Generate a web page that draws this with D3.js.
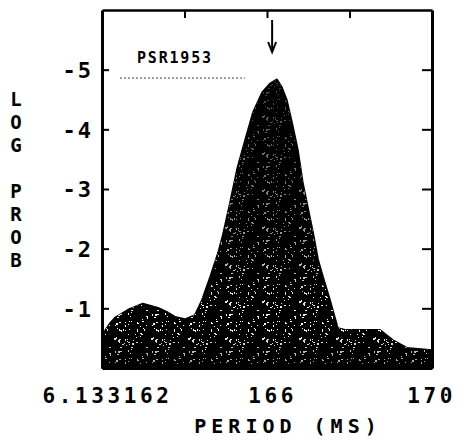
<!DOCTYPE html>
<html>
<head>
<meta charset="utf-8">
<script src="https://cdn.jsdelivr.net/npm/d3@7/dist/d3.min.js"></script>
<style>
  html, body { margin: 0; padding: 0; background: #fff; }
  svg { display: block; }
  text { font-family: "DejaVu Sans Mono", monospace; font-weight: bold; fill: #000; }
</style>
</head>
<body>
<script>
// ---- data ----
const periods = [162.00, 162.08, 162.20, 162.32, 162.63, 162.99, 163.36, 163.58, 163.77, 164.01,
                 164.25, 164.42, 164.62, 164.81, 164.93, 165.10, 165.27, 165.47, 165.66, 165.88,
                 166.07, 166.24, 166.36, 166.48, 166.63, 166.75, 166.87, 166.97, 167.12, 167.24,
                 167.36, 167.53, 167.72, 167.89, 168.74, 169.05, 169.39, 170.00];
const logProb = [-0.47, -0.64, -0.76, -0.85, -0.98, -1.08, -1.01, -0.94, -0.86, -0.82,
                 -0.89, -1.14, -1.53, -1.93, -2.24, -2.77, -3.33, -3.83, -4.29, -4.62,
                 -4.77, -4.84, -4.71, -4.50, -4.05, -3.66, -3.11, -2.77, -2.27, -1.82,
                 -1.53, -1.14, -0.67, -0.64, -0.64, -0.47, -0.34, -0.30];
const xLabelValues = [162, 166, 170];
const xLabelTexts = ["6.133162", "166", "170"];
const xMinorTicks = [164, 166, 168];
const yTickValues = [-1, -2, -3, -4, -5];
const yTickTexts = ["-1", "-2", "-3", "-4", "-5"];
const pulsarName = "PSR1953";
const markedPeriod = 166.1;
const xTitle = "PERIOD (MS)";
const yTitle = "LOG PROB";

(function () {
const W = 460, H = 440;
const x = d3.scaleLinear().domain([162, 170]).range([102, 432]);
const y = d3.scaleLinear().domain([0, -6]).range([368, 10]);

const svg = d3.select("body").append("svg").attr("width", W).attr("height", H);
const defs = svg.append("defs");

// speckle texture (deterministic, irregular-looking tile)
const T = 37;
const pat = defs.append("pattern").attr("id", "speck").attr("patternUnits", "userSpaceOnUse")
  .attr("width", T).attr("height", T);
const dots = [];
let s = 12345;
for (let k = 0; k < 70; k++) {
  s = (s * 1103515245 + 12345) % 2147483648;
  const dx = s % T;
  s = (s * 1103515245 + 12345) % 2147483648;
  const dy = s % T;
  dots.push([dx, dy, (k % 4 === 0) ? 2 : 1, (k % 5 === 0) ? 2 : 1]);
}
pat.selectAll("rect").data(dots).enter().append("rect")
  .attr("x", d => d[0]).attr("y", d => d[1]).attr("width", d => d[2])
  .attr("height", d => d[3]).attr("fill", "#fff");

const grad = defs.append("linearGradient").attr("id", "fade")
  .attr("gradientUnits", "userSpaceOnUse").attr("x1", 0).attr("x2", 0).attr("y1", 80).attr("y2", 368);
grad.append("stop").attr("offset", 0).attr("stop-color", "#fff").attr("stop-opacity", 0.25);
grad.append("stop").attr("offset", 0.55).attr("stop-color", "#fff").attr("stop-opacity", 0.6);
grad.append("stop").attr("offset", 0.85).attr("stop-color", "#fff").attr("stop-opacity", 1);
grad.append("stop").attr("offset", 1).attr("stop-color", "#fff").attr("stop-opacity", 0.6);
const mask = defs.append("mask").attr("id", "fadeMask").attr("maskUnits", "userSpaceOnUse")
  .attr("x", 0).attr("y", 0).attr("width", W).attr("height", H);
mask.append("rect").attr("x", 0).attr("y", 0).attr("width", W).attr("height", H).attr("fill", "url(#fade)");

const pts = periods.map((p, i) => [p, logProb[i]]);
const area = d3.area().x(d => x(d[0])).y0(y(0)).y1(d => y(d[1])).curve(d3.curveLinear);

defs.append("clipPath").attr("id", "areaClip").append("path").datum(pts).attr("d", area);

svg.append("path").datum(pts).attr("d", area).attr("fill", "#000")
  .attr("stroke", "#000").attr("stroke-width", 1.5).attr("stroke-linejoin", "round");
svg.append("g").attr("clip-path", "url(#areaClip)").append("rect")
  .attr("x", x(162) + 3).attr("y", y(-6)).attr("width", x(170) - x(162) - 6).attr("height", y(0) - y(-6) - 3)
  .attr("fill", "url(#speck)").attr("mask", "url(#fadeMask)");

// axes / frame
const leftAx = svg.append("g").attr("transform", `translate(${x(162)},0)`)
  .call(d3.axisLeft(y).tickValues(yTickValues).tickFormat((d, i) => yTickTexts[i])
    .tickSizeInner(-7).tickSizeOuter(0).tickPadding(9));
leftAx.select(".domain").attr("stroke-width", 3);
leftAx.selectAll(".tick line").attr("stroke-width", 2);
leftAx.selectAll("text").style("font-size", "22px").attr("letter-spacing", 2).attr("dy", "0.36em");

const rightAx = svg.append("g").attr("transform", `translate(${x(170)},0)`)
  .call(d3.axisRight(y).tickValues(yTickValues).tickFormat("").tickSizeInner(-10).tickSizeOuter(0));
rightAx.select(".domain").attr("stroke-width", 3);
rightAx.selectAll(".tick line").attr("stroke-width", 2);

const topAx = svg.append("g").attr("transform", `translate(0,${y(-6)})`)
  .call(d3.axisTop(x).tickValues(xMinorTicks).tickFormat("").tickSizeInner(-8).tickSizeOuter(0));
topAx.select(".domain").attr("stroke-width", 2.5);
topAx.selectAll(".tick line").attr("stroke-width", 2);

const bottomAx = svg.append("g").attr("transform", `translate(0,${y(0)})`)
  .call(d3.axisBottom(x).tickValues(xLabelValues).tickFormat((d, i) => xLabelTexts[i])
    .tickSize(0).tickPadding(20));
bottomAx.select(".domain").attr("stroke-width", 3);
bottomAx.selectAll("text").style("font-size", "21px").attr("letter-spacing", 3.6)
  .attr("dx", (d, i) => (i === xLabelValues.length - 1 ? -1 : 5));

// axis titles
svg.append("text").attr("x", 288).attr("y", 433).attr("text-anchor", "middle")
  .style("font-size", "20px").attr("letter-spacing", 5).text(xTitle);

const yChars = yTitle.split("");
svg.append("g").selectAll("text").data(yChars).enter().append("text")
  .attr("x", 16).attr("y", (d, i) => 106 + i * 23).attr("text-anchor", "middle")
  .style("font-size", "19px").text(d => d);

// annotation
svg.append("text").attr("x", 137).attr("y", 63).style("font-size", "15px")
  .attr("letter-spacing", 1.8).text(pulsarName);
svg.append("line").attr("x1", 120).attr("x2", 245).attr("y1", 78).attr("y2", 78)
  .attr("stroke", "#444").attr("stroke-width", 1).attr("stroke-dasharray", "2,2");

const ax = x(markedPeriod) + 1;
svg.append("line").attr("x1", ax).attr("x2", ax).attr("y1", 20).attr("y2", 51)
  .attr("stroke", "#000").attr("stroke-width", 2);
svg.append("path").attr("d", `M${ax - 4},42 L${ax},52 L${ax + 4},42`)
  .attr("fill", "none").attr("stroke", "#000").attr("stroke-width", 2);
})();
</script>
</body>
</html>
